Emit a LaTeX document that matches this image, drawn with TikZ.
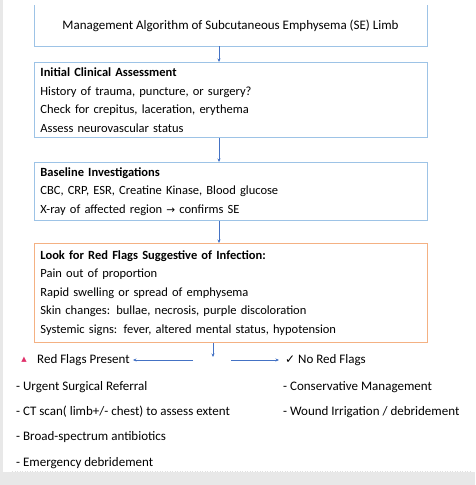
\documentclass[tikz,border=0pt]{standalone}
\usepackage{fontspec}
\setmainfont{Carlito}
\newfontfamily\symfont{DejaVu Sans}
\usetikzlibrary{arrows.meta}
\definecolor{boxblue}{HTML}{9DC3E6}
\definecolor{boxorange}{HTML}{F4B183}
\definecolor{arrblue}{HTML}{4472C4}
\definecolor{flagred}{HTML}{E0306A}
\definecolor{bggray}{HTML}{E8E8E8}
\tikzset{
  box/.style={draw=boxblue, line width=0.9pt, rectangle, anchor=north west,
    minimum width=393pt, text width=381pt, inner xsep=6pt, inner ysep=0pt,
    align=left, font=\fontsize{12.5}{18.6}\selectfont},
  obox/.style={box, draw=boxorange},
  arr/.style={draw=arrblue, line width=0.6pt, -{Stealth[length=3.5pt,width=3pt]}},
  txt/.style={anchor=west, inner sep=0pt, font=\fontsize{13}{14}\selectfont},
}
\begin{document}
\begin{tikzpicture}[x=1pt,y=-1pt]
\useasboundingbox (0,0) rectangle (475,485);
% background frame
\fill[bggray] (0,0) rectangle (3,485);
\fill[bggray] (0,472) rectangle (475,485);
\draw[black!12, line width=0.5pt, dotted] (12,471) -- (470,471);
% title box (top edge outside the picture)
\node[anchor=center, inner sep=0pt, font=\fontsize{13}{14}\selectfont] (title) at (230.5,26) {Management Algorithm of Subcutaneous Emphysema (SE) Limb};
\draw[boxblue, line width=0.9pt] (34,5) -- (34,46) -- (427,46) -- (427,5);
\coordinate (t1) at (230.5,46);
% boxes
\node[box, minimum height=75pt] (b2) at (34,62) {\textbf{Initial Clinical Assessment}\\History of trauma, puncture, or surgery?\\Check for crepitus, laceration, erythema\\Assess neurovascular status};
\node[box, minimum height=58pt] (b3) at (34,162) {\textbf{Baseline Investigations}\\CBC, CRP, ESR, Creatine Kinase, Blood glucose\\X-ray of affected region {\symfont\fontsize{10.5}{12}\selectfont →} confirms SE};
\node[obox, minimum height=99pt] (b4) at (34,243) {\textbf{Look for Red Flags Suggestive of Infection:}\\Pain out of proportion\\Rapid swelling or spread of emphysema\\Skin changes: bullae, necrosis, purple discoloration\\Systemic signs: fever, altered mental status, hypotension};
% vertical connectors
\coordinate (ax) at (219,0);
\draw[arr] (t1 -| ax) -- (b2.north -| ax);
\draw[arr] (b2.south -| ax) -- (b3.north -| ax);
\draw[arr] (b3.south -| ax) -- (b4.north -| ax);
\coordinate (split) at (213,357);
\draw[arr] (b4.south -| split) -- (split);
% branches
\node[inner sep=0pt, text=flagred, font=\symfont\fontsize{7}{8}\selectfont] (tri) at (24,360) {▲};
\node[txt] (red) at (37,360) {Red Flags Present};
\node[txt] (nored) at (285,360) {{\symfont\fontsize{12}{12}\selectfont ✓} No Red Flags};
\coordinate (lstart) at (193,360);
\coordinate (rstart) at (231,360);
\draw[arr] (lstart) -- ([xshift=3pt]red.east);
\draw[arr] (rstart) -- ([xshift=-6pt]nored.west);
% lists
\node[txt] (l1) at (16,387) {- Urgent Surgical Referral};
\node[txt] (l2) at (16,412) {- CT scan( limb+/- chest) to assess extent};
\node[txt] (l3) at (16,437) {- Broad-spectrum antibiotics};
\node[txt] (l4) at (16,463) {- Emergency debridement};
\node[txt] (r1) at (283,387) {- Conservative Management};
\node[txt] (r2) at (283,412) {- Wound Irrigation / debridement};
\end{tikzpicture}
\end{document}
